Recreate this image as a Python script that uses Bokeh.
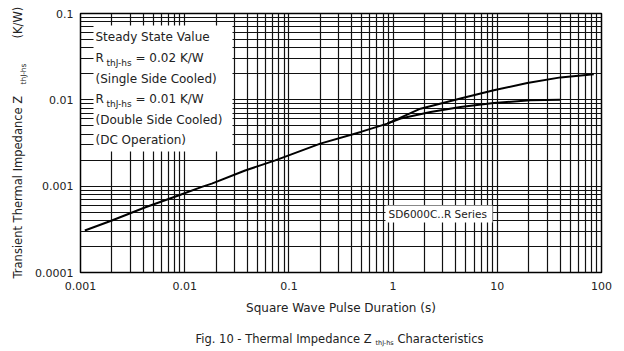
import math
from bokeh.plotting import figure
from bokeh.layouts import row, column
from bokeh.models import Label, BoxAnnotation, FixedTicker, Range1d, CustomJSTickFormatter
from bokeh.embed import file_html
from bokeh.resources import INLINE

# ---- data ----
t_common = [0.0011, 0.002, 0.0042, 0.0087, 0.0146, 0.0182, 0.038, 0.074, 0.2, 0.49, 0.88]
z_common = [3.07e-4, 4.0e-4, 5.7e-4, 7.8e-4, 9.8e-4, 1.07e-3, 1.52e-3, 1.99e-3, 3.11e-3, 4.25e-3, 5.3e-3]

t_single = [1.83, 4.43, 9.25, 19.4, 40.4, 84.3]
z_single = [7.9e-3, 1.035e-2, 1.29e-2, 1.57e-2, 1.82e-2, 1.98e-2]

t_double = [1.18, 2.29, 4.43, 9.25, 20.8, 40.0]
z_double = [6.07e-3, 7.24e-3, 8.28e-3, 9.2e-3, 9.9e-3, 1.0e-2]

x_ticks = [0.001, 0.01, 0.1, 1, 10, 100]
x_tick_labels = ["0.001", "0.01", "0.1", "1", "10", "100"]
y_ticks = [0.0001, 0.001, 0.01, 0.1]
y_tick_labels = ["0.0001", "0.001", "0.01", "0.1"]

x_label = "Square Wave Pulse Duration (s)"
y_label_main = "Transient Thermal Impedance Z"
y_label_sub = "thJ-hs"
y_label_unit = "(K/W)"
caption_main = "Fig. 10 - Thermal Impedance Z"
caption_sub = "thJ-hs"
caption_end = "Characteristics"
box_lines = ["Steady State Value", "R", "(Single Side Cooled)", "R", "(Double Side Cooled)", "(DC Operation)"]
r_values = ["= 0.02 K/W", "= 0.01 K/W"]
series_label = "SD6000C..R Series"

# ---- layout geometry (pixels of the whole 624x351 picture) ----
W, H = 624, 351
YW = 30            # width of the strip holding the y-axis title
CH = 31            # height of the strip holding the caption
L, R, T, B = 80, 601, 13, 272
FONT = "DejaVu Sans"
TXT = "#222222"

MW, MH = W - YW, H - CH   # main figure size

p = figure(width=MW, height=MH, x_axis_type="log", y_axis_type="log",
           x_range=Range1d(0.001, 100), y_range=Range1d(0.0001, 0.1),
           output_backend="svg", toolbar_location=None,
           min_border_left=L - YW, min_border_right=W - R,
           min_border_top=T, min_border_bottom=MH - B)
p.background_fill_color = "white"
p.border_fill_color = "white"
p.outline_line_color = "black"
p.outline_line_width = 1.5

def minors(lo, hi):
    out = []
    for e in range(lo, hi):
        for k in range(2, 10):
            out.append(k * 10.0 ** e)
    return out

xt = FixedTicker(ticks=x_ticks, minor_ticks=minors(-3, 2))
yt = FixedTicker(ticks=y_ticks, minor_ticks=minors(-4, -1))
p.xaxis.ticker = xt
p.yaxis.ticker = yt
p.xgrid.ticker = xt
p.ygrid.ticker = yt

fmt_code = """
let best = 0, bd = 1e9;
for (let i = 0; i < tv.length; i++) {
  const d = Math.abs(Math.log10(tick) - Math.log10(tv[i]));
  if (d < bd) { bd = d; best = i; }
}
return tl[best];
"""
p.xaxis.formatter = CustomJSTickFormatter(args=dict(tv=x_ticks, tl=x_tick_labels), code=fmt_code)
p.yaxis.formatter = CustomJSTickFormatter(args=dict(tv=y_ticks, tl=y_tick_labels), code=fmt_code)

for g in (p.xgrid, p.ygrid):
    g.grid_line_color = "#111111"
    g.grid_line_width = 1.2
    g.minor_grid_line_color = "#111111"
    g.minor_grid_line_width = 1.2

for ax in (p.xaxis, p.yaxis):
    ax.axis_line_color = None
    ax.major_tick_out = 0
    ax.major_tick_in = 0
    ax.minor_tick_out = 0
    ax.minor_tick_in = 0
    ax.major_label_text_font = FONT
    ax.major_label_text_font_size = "11px"
    ax.major_label_text_color = TXT
p.xaxis.major_label_standoff = 9
p.yaxis.major_label_standoff = 7

p.xaxis.axis_label = x_label
p.xaxis.axis_label_text_font = FONT
p.xaxis.axis_label_text_font_size = "12px"
p.xaxis.axis_label_text_font_style = "normal"
p.xaxis.axis_label_text_color = TXT
p.xaxis.axis_label_standoff = 8

# curves
p.line(t_common + t_single, z_common + z_single, line_color="black", line_width=2)
p.line(t_common[-1:] + t_double, z_common[-1:] + z_double, line_color="black", line_width=2)

# white boxes (screen units are measured from the frame's bottom-left corner)
def sbox(x0, x1, y0, y1):
    p.add_layout(BoxAnnotation(left=x0 - L, right=x1 - L, top=B - y0, bottom=B - y1,
                               left_units="screen", right_units="screen",
                               top_units="screen", bottom_units="screen",
                               fill_color="white", fill_alpha=1, line_color=None))

sbox(93, 232, 25, 151)
sbox(385, 492, 205, 222)

def lab(fig, ox, oy, px, py, text, size, angle=0.0):
    fig.add_layout(Label(x=px - ox, y=oy - py, x_units="screen", y_units="screen",
                         text=text, angle=angle,
                         text_align="left", text_baseline="middle",
                         text_font=FONT, text_font_size=f"{size}px",
                         text_color=TXT))

# box text
ys = [36, 57, 78, 98, 119, 139]
ri = 0
for line, yy in zip(box_lines, ys):
    if line == "R":
        lab(p, L, B, 95, yy, "R", 12)
        lab(p, L, B, 106, yy + 5, "thJ-hs", 9)
        lab(p, L, B, 135, yy, r_values[ri], 12)
        ri += 1
    else:
        lab(p, L, B, 95, yy, line, 12)

lab(p, L, B, 388, 213, series_label, 10.5)

def strip(w, h):
    f = figure(width=w, height=h, output_backend="svg", toolbar_location=None,
               x_axis_location=None, y_axis_location=None,
               x_range=Range1d(0, w), y_range=Range1d(0, h),
               min_border=0, min_border_left=0, min_border_right=0,
               min_border_top=0, min_border_bottom=0)
    f.outline_line_color = None
    f.grid.visible = False
    f.background_fill_color = "white"
    f.border_fill_color = "white"
    return f

# y-axis title strip (left)
yfig = strip(YW, H)
lab(yfig, 0, H, 17.5, 278, y_label_main, 11.5, angle=math.pi / 2)
lab(yfig, 0, H, 22.5, 84, y_label_sub, 7.5, angle=math.pi / 2)
lab(yfig, 0, H, 17.5, 38, y_label_unit, 11.5, angle=math.pi / 2)

# caption strip (bottom); its frame is aligned with the main frame (starts at x = L)
cfig = strip(MW, CH)
lab(cfig, L, H, 195, 338, caption_main, 11.5)
lab(cfig, L, H, 375, 342, caption_sub, 6.5)
lab(cfig, L, H, 397, 338, caption_end, 11.5)

lay = row(yfig, column(p, cfig, spacing=0), spacing=0)

open("out.html", "w").write(file_html(lay, INLINE))
